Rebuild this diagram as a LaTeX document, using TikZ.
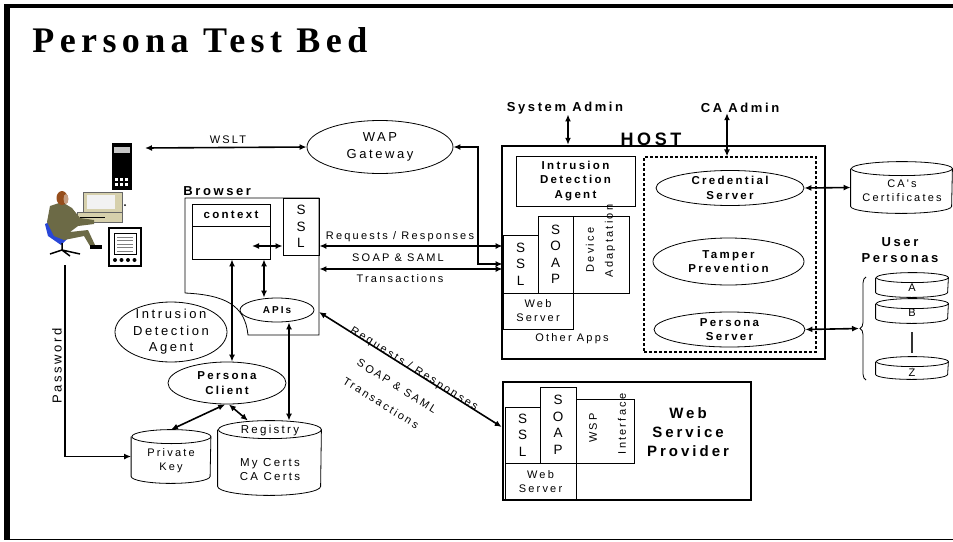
\documentclass[tikz,border=0pt]{standalone}
\usepackage{fontspec}
\usetikzlibrary{arrows.meta,shapes.geometric,decorations.pathreplacing}
\setmainfont{Liberation Sans}
\newfontfamily\titlefont[LetterSpace=15]{Liberation Serif}
\newfontfamily\spaced[LetterSpace=20]{Liberation Sans}
\definecolor{suit}{RGB}{108,106,70}
\definecolor{hair}{RGB}{150,78,28}
\definecolor{chair}{RGB}{40,70,215}
\definecolor{beige}{RGB}{214,208,172}
\newcommand{\biarw}{{Latex[length=7pt,width=6pt]}-{Latex[length=7pt,width=6pt]}}
\newcommand{\onearw}{-{Latex[length=7pt,width=6pt]}}
% cylinder: name, x, y, width, height, cap radius
\newcommand{\drum}[6]{%
  \node[minimum width=#4pt,minimum height=#5pt,inner sep=0pt] (#1) at (#2,#3) {};
  \draw[fill=white] ([yshift=-#6pt]#1.north west) -- ([yshift=#6pt]#1.south west)
    arc[start angle=180,end angle=360,x radius=#4pt/2,y radius=#6pt]
    -- ([yshift=-#6pt]#1.north east)
    arc[start angle=0,end angle=180,x radius=#4pt/2,y radius=#6pt];
  \draw ([yshift=-#6pt]#1.north east)
    arc[start angle=0,end angle=-180,x radius=#4pt/2,y radius=#6pt];
}
\tikzset{
  box/.style={draw,inner sep=0pt},
  oval/.style={draw,ellipse,inner sep=0pt},
  link/.style={line width=1.6pt},
  tn/.style={font=\fontsize{11}{14}\spaced,align=center,inner sep=0pt},
  tl/.style={font=\fontsize{13}{16.5}\spaced,align=center,inner sep=0pt},
  tb/.style={font=\fontsize{11.5}{14.5}\spaced\bfseries,align=center,inner sep=0pt},
  tB/.style={font=\fontsize{13}{16}\spaced\bfseries,align=center,inner sep=0pt},
  tv/.style={font=\fontsize{13.5}{16.5}\selectfont,align=center,inner sep=0pt},
}

\begin{document}
\begin{tikzpicture}[x=1pt,y=-1pt,line width=0.8pt]
\useasboundingbox (0,0) rectangle (953,541);
%frame and title
\fill (4,4) rectangle (953,8);
\fill (4,4) rectangle (10,540);
\draw[line width=1.2pt] (4,539.4) -- (953,539.4);
\node[anchor=base west,inner sep=0pt,font=\fontsize{36}{40}\titlefont\bfseries] (title) at (32,52) {Persona Test Bed};

%user at the desk, phone and pda
\fill (112,143) rectangle (132,190);
\fill[gray!45] (114,147) rectangle (130,153);
\foreach \i in {0,1,2} \foreach \j in {0,1}
  \fill[white] (115+5*\i,178+5*\j) rectangle (118+5*\i,181+5*\j);
\fill[beige,draw=black!60,line width=0.5pt] (83,192) rectangle (122,212);
\fill[white!90!gray] (87,195) rectangle (115,209);
\fill[beige,draw=black!60,line width=0.5pt] (77,212) rectangle (122,222);
\draw[line width=0.5pt] (80,217) -- (105,217);
\fill (125,205) circle (1);
\fill[chair] (45,224) -- (52,221) -- (67,239) -- (61,245) -- (48,236) -- cycle;
\draw[line width=1.5pt] (62,243) -- (62,250) (50,254) -- (62,250) -- (80,254) (62,250) -- (70,256);
\fill[suit] (50,206) -- (62,202) -- (72,208) -- (80,218) -- (94,220) -- (94,224) -- (78,226)
  -- (70,232) -- (88,230) -- (95,245) -- (90,246) -- (84,236) -- (64,240) -- (54,236) -- (47,222) -- cycle;
\fill[hair] (62,198) ellipse (5.5 and 7);
\fill[hair!55!white] (66,199) ellipse (2.5 and 5);
\fill (90,245) rectangle (102,249);
\draw[line width=1.5pt,fill=white] (109,228) rectangle (141,266);
\draw[line width=0.6pt] (114,233) rectangle (136,254);
\foreach \k in {0,...,4} \draw[gray,line width=1pt] (117,237+3.5*\k) -- (133,237+3.5*\k);
\foreach \i in {0,...,3} \fill (115+6.5*\i,260) circle (2);

%wap gateway
\coordinate (wsltend) at (145,148);
\node[oval,minimum width=146pt,minimum height=53pt,label={[tl]center:WAP\\Gateway}] (wap) at (380,147) {};
\draw[link,\biarw] (wsltend) -- (wap.west);
\node[tn] (wslt) at (228,140) {WSLT};

%browser
\node[tB,anchor=base west] (brlbl) at (183,195) {Browser};
\draw (185,293) -- (185,198) -- (319,198) -- (319,335) -- (248,335)
  .. controls (245,305) and (225,295) .. (185,293);
\node[box,tv,minimum width=36pt,minimum height=57pt] (bssl) at (301,226.5) {S\\S\\L};
\node[box,minimum width=78pt,minimum height=55pt] (ctx) at (231,231.5) {};
\draw (192,226) -- (270,226);
\node[tb] (ctxt) at (231,215) {context};
\node[oval,minimum width=74pt,minimum height=24pt,font=\fontsize{10}{12}\spaced\bfseries] (apis) at (277,310) {APIs};
\coordinate (ctxin) at (252,246);
\coordinate (brapi) at (319,312);
\draw[link,\biarw] (ctxin) -- (bssl.west |- ctxin);
\draw[link,\biarw] (ctx.south -| 264,0) -- (apis.north -| 264,0);

%client side
\node[oval,minimum width=112pt,minimum height=60pt,label={[tl]center:Intrusion\\Detection\\Agent}] (ida) at (171,332) {};
\node[oval,minimum width=118pt,minimum height=42pt,label={[tb]center:Persona\\Client}] (pcl) at (227,383) {};
\drum{pkey}{171}{456.5}{79}{53}{7}
\node[tn] (pkeyt) at (171,461) {Private\\Key};
\drum{reg}{269.5}{458}{103}{74}{9}
\node[tn,font=\fontsize{11.5}{14}\spaced] (regt) at (270,431) {Registry};
\node[tn,font=\fontsize{11.5}{14}\spaced] (certt) at (270,470) {My Certs\\CA Certs};
\draw[link,\biarw] (ctx.south -| 232,0) -- (pcl.north -| 232,0);
\draw[link,\biarw] (apis.south -| 289,0) -- (reg.north -| 289,0);
\draw[link,\biarw] (pcl.265) -- (pkey.north);
\draw[link,\biarw] (pcl.275) -- (reg.120);
\coordinate (pwtop) at (65,265);
\draw[link,\onearw] (pwtop) |- (pkey.west);
\node[tl,rotate=90] (pw) at (57,366) {Password};

%host
\node[draw,line width=2.5pt,minimum width=323pt,minimum height=213pt,inner sep=0pt] (host) at (663.5,252.5) {};
\node[font=\fontsize{18}{20}\spaced\bfseries,inner sep=0pt] (hostlbl) at (651,139) {HOST};
\node[tB] (sysadm) at (565,108) {System Admin};
\node[tB] (caadm) at (740,108) {CA Admin};
\node[draw,dashed,dash pattern=on 3pt off 2pt,line width=1.2pt,minimum width=172pt,minimum height=195pt,inner sep=0pt] (dbox) at (730,254.5) {};
\draw[link,\biarw] (sysadm.south -| 568,0) -- (host.north -| 568,0);
\draw[link,\biarw] (caadm.south -| 727,0) -- (dbox.north -| 727,0);
\node[box,tb,minimum width=119pt,minimum height=50pt] (hida) at (575.5,181) {Intrusion\\Detection\\Agent};
\node[box,tv,minimum width=35pt,minimum height=58pt] (hssl) at (520.5,264) {S\\S\\L};
\node[box,tv,minimum width=35pt,minimum height=77pt] (hsoap) at (555.5,254.5) {S\\O\\A\\P};
\node[box,minimum width=56pt,minimum height=77pt] (hdev) at (601,254.5) {};
\node[tn,rotate=90] (hdev1) at (590,250) {Device};
\node[tn,rotate=90] (hdev2) at (610,241) {Adaptation};
\node[box,tn,minimum width=70pt,minimum height=36pt] (hweb) at (538,311) {Web\\Server};
\node[tn] (oapps) at (572,339) {Other Apps};
\node[oval,minimum width=148pt,minimum height=35pt,label={[tb]center:Credential\\Server}] (cred) at (730,188) {};
\node[oval,minimum width=151pt,minimum height=47pt,label={[tb]center:Tamper\\Prevention}] (tamp) at (728.5,261.5) {};
\node[oval,minimum width=151pt,minimum height=35pt,label={[tb]center:Persona\\Server}] (pserv) at (729.5,329.5) {};

%stores on the right
\drum{cacert}{901.5}{187.5}{101}{51}{7}
\node[tn] (cacertt) at (902,191) {CA's\\Certificates};
\draw[link,\biarw] (cred.east) -- (cacert.west);
\node[tB] (uper) at (900,250) {User\\Personas};
\drum{pa}{912}{285}{72}{24}{5}
\drum{pb}{912}{311}{72}{24}{5}
\drum{pz}{912}{368}{72}{22}{5}
\node[tn] (pat) at (912,288) {A};
\node[tn] (pbt) at (912,313) {B};
\node[tn] (pzt) at (912,373) {Z};
\draw[line width=1.8pt,black!80] (912,332) -- (912,353);
\draw[decorate,decoration={brace,amplitude=6pt}] (866,380) -- (866,277);
\coordinate (brtip) at (859,328.5);
\draw[link,\biarw] (pserv.east) -- (brtip);

%browser to host
\draw[link,\biarw] (bssl.east |- 0,246) -- (hssl.west |- 0,246);
\draw[link,\biarw] (bssl.east |- 0,269) -- (hssl.west |- 0,269);
\draw[link,\biarw] (wap.east) -| (478,264) -- (hssl.west |- 0,264);
\node[tn] (req1) at (400,237) {Requests / Responses};
\node[tn] (soap1) at (398,258) {SOAP \& SAML};
\node[tn] (tr1) at (400,279) {Transactions};

%web service provider
\node[draw,line width=2.5pt,minimum width=248pt,minimum height=118pt,inner sep=0pt] (wsp) at (627,441) {};
\node[box,tv,minimum width=35pt,minimum height=56pt] (wssl) at (522.5,435) {S\\S\\L};
\node[box,tv,minimum width=36pt,minimum height=76pt] (wsoap) at (558,425) {S\\O\\A\\P};
\node[box,minimum width=58pt,minimum height=64pt] (wint) at (605,431) {};
\node[tn,rotate=90] (wint1) at (593,428) {WSP};
\node[tn,rotate=90] (wint2) at (622,424) {Interface};
\node[box,tn,minimum width=71pt,minimum height=37pt] (wweb) at (540.5,481.5) {Web\\Server};
\node[font=\fontsize{15}{19}\spaced\bfseries,align=center,inner sep=0pt] (wsplbl) at (688,432) {Web\\Service\\Provider};
\draw[link,\biarw] (brapi) -- (wsp.west |- 0,427);
\node[tn,rotate=-32] (req2) at (414,369) {Requests / Responses};
\node[tn,rotate=-32] (soap2) at (397,386) {SOAP \& SAML};
\node[tn,rotate=-32] (tr2) at (381,403) {Transactions};
\end{tikzpicture}
\end{document}
